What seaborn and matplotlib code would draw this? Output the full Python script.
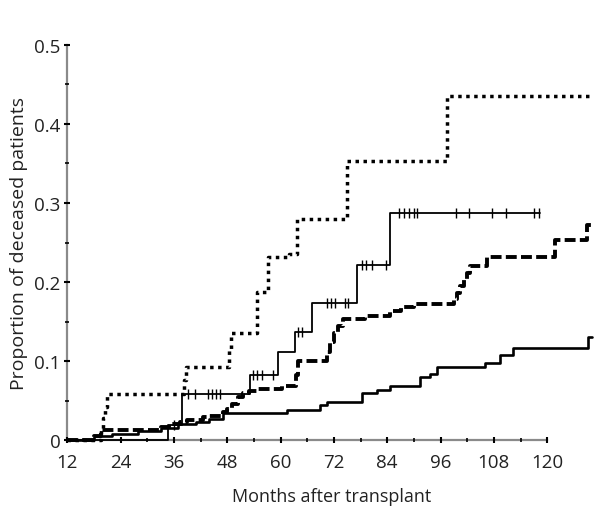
import numpy as np
import matplotlib
matplotlib.use("Agg")
import matplotlib.pyplot as plt
import seaborn as sns

# Courbes de Kaplan-Meier (1 - survie)
end_month = 130

dot_t = [12, 19.5, 20.0, 20.5, 21.0, 38.3, 38.8, 48.4, 48.8, 54.7, 57.2, 62.0, 63.8, 74.9, 97.4]
dot_p = [0, 0.014, 0.028, 0.042, 0.058, 0.076, 0.093, 0.115, 0.136, 0.187, 0.232, 0.236, 0.280, 0.353, 0.435]

thin_t = [12, 34.6, 37.9, 53.1, 59.5, 63.2, 67.0, 77.1, 84.6]
thin_p = [0, 0.019, 0.058, 0.083, 0.111, 0.137, 0.174, 0.222, 0.287]
thin_end = 118.3
thin_censor = [36.0, 39.2, 40.8, 43.7, 44.6, 45.5, 46.4, 53.8, 54.7, 55.8, 58.3,
               63.9, 64.8, 70.5, 71.4, 72.2, 74.5, 75.1, 78.3, 79.2, 80.5, 83.7,
               86.7, 87.8, 88.9, 90.1, 90.8, 99.5, 102.4, 107.6, 110.8, 117.1, 118.2]

dash_t = [12, 18.0, 19.5, 33.0, 35.0, 37.3, 39.0, 42.5, 44.0, 47.0, 48.0, 49.0, 50.4,
          51.5, 53.0, 55.0, 60.3, 63.5, 64.0, 70.5, 71.2, 72.0, 73.0, 74.0, 79.0, 84.6,
          87.0, 90.0, 99.0, 99.6, 100.4, 101.2, 102.0, 102.6, 106.4, 121.7, 129.0]
dash_p = [0, 0.005, 0.013, 0.017, 0.020, 0.023, 0.026, 0.029, 0.031, 0.035, 0.040, 0.046, 0.054,
          0.060, 0.062, 0.065, 0.068, 0.082, 0.100, 0.112, 0.124, 0.135, 0.145, 0.153, 0.157, 0.163,
          0.168, 0.172, 0.178, 0.186, 0.195, 0.204, 0.212, 0.220, 0.232, 0.253, 0.272]

low_t = [12, 18.0, 22.0, 28.0, 33.0, 37.0, 41.0, 44.0, 47.0, 61.4, 68.9, 70.4, 78.3, 81.7,
         84.6, 91.3, 93.6, 95.2, 106.0, 109.4, 112.3, 129.2]
low_p = [0, 0.005, 0.008, 0.012, 0.015, 0.020, 0.023, 0.027, 0.034, 0.038, 0.044, 0.048, 0.060, 0.064,
         0.068, 0.080, 0.084, 0.092, 0.098, 0.108, 0.117, 0.130]

sns.set_theme(style="ticks")
plt.rcParams['font.family'] = ['Open Sans', 'DejaVu Sans']

fig = plt.figure(figsize=(6, 5.1), dpi=100)
ax = fig.add_axes([0.112, 0.135, 0.8815, 0.775])


def ext(t, p, end):
    return list(t) + [end], list(p) + [p[-1]]


x, y = ext(dot_t, dot_p, end_month)
sns.lineplot(x=x, y=y, drawstyle='steps-post', estimator=None, color='black', linewidth=2.5,
             linestyle=(0, (1.0, 1.3)), dash_capstyle='butt', ax=ax, clip_on=False)

x, y = ext(dash_t, dash_p, end_month)
sns.lineplot(x=x, y=y, drawstyle='steps-post', estimator=None, color='black', linewidth=2.8,
             linestyle=(0, (2.8, 1.1)), dash_capstyle='butt', ax=ax, clip_on=False)

x, y = ext(low_t, low_p, end_month)
sns.lineplot(x=x, y=y, drawstyle='steps-post', estimator=None, color='black', linewidth=1.9,
             ax=ax, clip_on=False)

x, y = ext(thin_t, thin_p, thin_end)
sns.lineplot(x=x, y=y, drawstyle='steps-post', estimator=None, color='black', linewidth=1.3,
             ax=ax, clip_on=False)

# marques de censure sur la courbe fine
idx = np.searchsorted(thin_t, thin_censor, side='right') - 1
cens_y = np.array(thin_p)[idx]
ax.plot(thin_censor, cens_y, linestyle='none', marker='|', markersize=7, markeredgewidth=1.0,
        color='black', clip_on=False)

ax.set_xlim(12, 131)
ax.set_ylim(0, 0.5)
ax.set_xticks(range(12, 121, 12))
ax.set_xticks(range(18, 121, 12), minor=True)
ax.set_yticks([0, 0.1, 0.2, 0.3, 0.4, 0.5])
ax.set_yticklabels(['0', '0.1', '0.2', '0.3', '0.4', '0.5'])
ax.set_yticks([0.05, 0.15, 0.25, 0.35, 0.45], minor=True)
ax.tick_params(axis='both', which='both', direction='inout', length=4, width=1.5, color='black',
               labelsize=13.5, labelcolor='#222222')
ax.tick_params(axis='x', which='major', pad=7)
ax.tick_params(axis='y', which='major', pad=3)
ax.tick_params(axis='both', which='minor', length=3, width=1.2)

sns.despine(ax=ax)
ax.spines['left'].set_bounds(0, 0.5)
ax.spines['bottom'].set_bounds(12, 120)
for s in ['left', 'bottom']:
    ax.spines[s].set_color('#8a8a8a')
    ax.spines[s].set_linewidth(1.6)
    ax.spines[s].set_zorder(0)

ax.set_xlabel("Months after transplant", fontsize=13, color='#222222', labelpad=12)
ax.set_ylabel("Proportion of deceased patients", fontsize=14, color='#222222', labelpad=4)

fig.savefig("out.png", dpi=100)
